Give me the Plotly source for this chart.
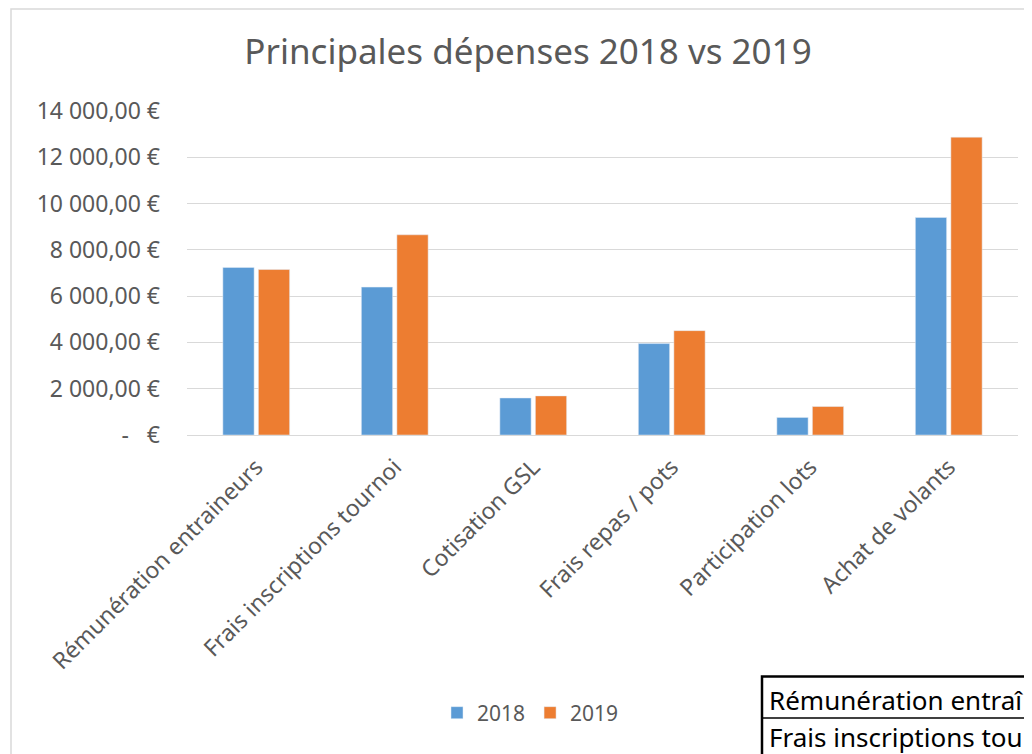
import plotly.graph_objects as go

categories = ["Rémunération entraineurs", "Frais inscriptions tournoi", "Cotisation GSL",
              "Frais repas / pots", "Participation lots", "Achat de volants"]
values_2018 = [7240, 6390, 1600, 3950, 760, 9400]
values_2019 = [7150, 8650, 1690, 4510, 1230, 12870]
tick_values = [0, 2000, 4000, 6000, 8000, 10000, 12000, 14000]
tick_labels = ["-\u00a0\u00a0\u00a0€", "2\u00a0000,00\u00a0€", "4\u00a0000,00\u00a0€", "6\u00a0000,00\u00a0€",
               "8\u00a0000,00\u00a0€", "10\u00a0000,00\u00a0€", "12\u00a0000,00\u00a0€", "14\u00a0000,00\u00a0€"]
# visible part of the spreadsheet cells overlapping the chart
table_rows = ["Rémunération entraî", "Frais inscriptions tou"]

W, H = 1032, 754
OFF = 8  # page body margin
# plot area in page pixels
PL, PR, PT, PB = 187, 1018, 111, 435
L, R, T, B = PL - OFF, PR - OFF, PT - OFF, PB - OFF
FONT = "Noto Sans"
GREY = "#595959"


def px_x(page_x):
    return (page_x - PL) / (PR - PL)


def px_y(page_y):
    return (PB - page_y) / (PB - PT)


fig = go.Figure()
fig.add_trace(go.Bar(name="2018", x=categories, y=values_2018, marker_color="#5B9BD5"))
fig.add_trace(go.Bar(name="2019", x=categories, y=values_2019, marker_color="#ED7D31"))

fig.update_layout(
    width=W, height=H,
    margin=dict(l=L, r=W - R, t=T, b=H - B, pad=0),
    paper_bgcolor="white", plot_bgcolor="white",
    barmode="group", bargap=0.487, bargroupgap=0.12,
    font=dict(family=FONT, color=GREY, size=22),
    title=dict(text="Principales dépenses 2018 vs 2019", x=(528 - OFF) / W, xanchor="center",
               y=1 - (52 - OFF) / H, yanchor="middle", xref="container", yref="container",
               font=dict(family=FONT, size=35, color=GREY)),
    legend=dict(orientation="h", x=px_x(530.5), xanchor="center", y=px_y(713), yanchor="middle",
                font=dict(family=FONT, size=21, color=GREY), itemwidth=30, traceorder="normal"),
    showlegend=True,
)
fig.update_yaxes(range=[0, 14000], tickvals=tick_values, ticktext=tick_labels,
                 showgrid=True, gridcolor="#D9D9D9", gridwidth=1, zeroline=True,
                 zerolinecolor="#D9D9D9", zerolinewidth=1, showline=False,
                 ticks="", ticklabelstandoff=26, tickfont=dict(family=FONT, size=23, color=GREY))
fig.update_xaxes(tickangle=-45, showgrid=False, showline=False, ticks="",
                 ticklabelstandoff=13, tickfont=dict(family=FONT, size=23, color=GREY))

# chart area border (light grey)
fig.add_shape(type="rect", xref="paper", yref="paper",
              x0=px_x(11), x1=px_x(1070), y0=px_y(9), y1=px_y(800),
              line=dict(color="#D9D9D9", width=1.5), fillcolor="rgba(0,0,0,0)", layer="below")

# overlapping spreadsheet cells at bottom right
fig.add_shape(type="rect", xref="paper", yref="paper",
              x0=px_x(762), x1=px_x(1070), y0=px_y(676.5), y1=px_y(800),
              line=dict(color="black", width=2.5), fillcolor="white", layer="above")
fig.add_shape(type="line", xref="paper", yref="paper",
              x0=px_x(762), x1=px_x(1070), y0=px_y(718), y1=px_y(718),
              line=dict(color="black", width=1.5), layer="above")
row_centers = [700, 737]
for row, yc in zip(table_rows, row_centers):
    fig.add_annotation(text=row, xref="paper", yref="paper", x=px_x(767), y=px_y(yc),
                       xanchor="left", yanchor="middle", showarrow=False,
                       font=dict(family=FONT, size=26, color="black"))

fig.write_html("out.html")
